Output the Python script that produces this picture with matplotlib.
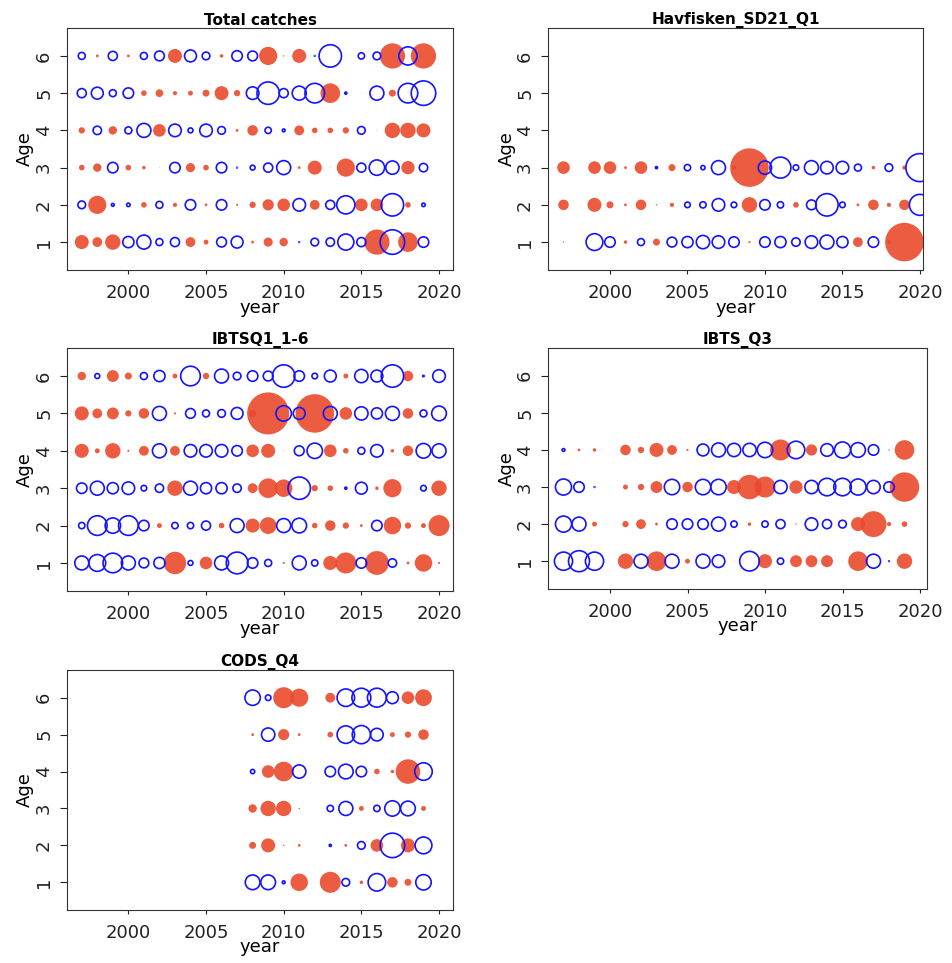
import numpy as np
import matplotlib
matplotlib.use('Agg')
import matplotlib.pyplot as plt

nan = np.nan

# Residuals per fleet, one list per age (1..6)
ages = [1, 2, 3, 4, 5, 6]

# Total catches, 1997-2019
years_total = list(range(1997, 2020))
total_a1 = [1.0, 0.7, 1.1, -0.8, -1.0, -0.5, -0.65, 0.7, 0.35, -0.7, -0.85, 0.2, 0.65, 0.6, -0.05, -0.55, -0.6, -1.15, -0.65, 1.8, -1.75, 1.4, -0.75]
total_a2 = [-0.55, 1.3, -0.2, -0.25, 0.4, -0.5, 0.3, -0.75, 0.2, -0.75, 0.15, 0.45, 0.8, 0.9, -0.9, 0.7, -0.65, -1.3, 0.9, 0.9, -1.6, 0.4, -0.25]
total_a3 = [0.4, 0.6, -0.75, 0.4, 0.25, 0.05, -0.75, 0.65, 0.4, -0.75, -0.05, -0.35, -0.65, -1.0, 0.2, 1.0, 0.05, 1.3, -0.65, -1.1, -0.95, 0.95, -0.6]
total_a4 = [0.45, -0.6, 0.6, -0.5, -1.0, 0.9, -0.9, -0.35, -0.9, -0.55, 0.2, 0.75, -0.45, -0.2, 0.7, 0.4, 0.4, 0.45, -0.55, 0.05, 1.1, 1.1, 1.0]
total_a5 = [-0.65, -0.85, -0.5, -0.75, 0.4, 0.55, 0.3, 0.35, 0.5, 1.0, 0.45, -0.9, -1.6, -0.65, -1.0, -1.4, 1.4, -0.15, 0.05, -1.0, 0.5, -1.4, -1.75]
total_a6 = [-0.5, 0.2, -0.65, 0.2, -0.5, -0.7, 1.0, -0.85, -0.55, 0.25, -0.75, -0.7, 1.3, 0.1, 1.0, -0.05, -1.6, 0.05, -0.45, -0.55, 1.8, -1.3, 1.8]

# Havfisken_SD21_Q1, 1997-2020, ages 1-3
years_havf = list(range(1997, 2021))
havf_a1 = [0.1, nan, -1.2, -0.75, 0.25, -0.5, 0.5, -0.7, -0.8, -0.95, -0.9, -0.75, 0.15, -0.75, -0.8, -0.6, -0.9, -1.0, -0.8, 0.7, -0.75, 0.3, 2.75, nan]
havf_a2 = [0.75, nan, 1.0, 0.5, 0.2, 0.75, 0.1, 0.3, -0.4, -0.45, -0.9, -0.4, 1.1, -0.75, -0.45, 0.4, -0.7, -1.6, -0.4, 0.2, 0.75, 0.3, 0.75, -1.5]
havf_a3 = [0.9, nan, 0.9, 0.9, 0.2, 0.9, -0.15, 0.5, -0.45, -0.3, -1.0, 0.3, 2.75, -0.95, -1.5, -0.4, -1.0, -0.9, -0.9, -0.5, 0.25, -0.55, 0.3, -2.0]

# IBTSQ1_1-6, 1997-2020
years_q1 = list(range(1997, 2021))
q1_a1 = [-1.0, -1.2, -1.4, -1.0, -0.7, -0.8, 1.6, -0.35, 0.9, -1.0, -1.55, -0.75, -0.5, 0.15, -1.0, -0.45, 1.0, 1.5, -0.75, 1.7, -0.6, 0.2, 1.25, 0.15]
q1_a2 = [-0.45, -1.4, -1.1, -1.4, -0.75, 0.35, -0.45, -0.45, -0.65, 0.4, -1.0, 1.0, 1.2, -1.0, -1.05, 0.4, 0.75, 0.45, 0.2, -0.75, 1.25, 0.45, 0.35, 1.5]
q1_a3 = [-0.75, -1.0, -0.8, -0.9, -0.4, -0.6, 1.1, -1.0, -0.8, -0.8, -0.6, 0.7, 1.4, 1.25, -1.6, 0.45, 0.4, -0.15, -0.85, 0.25, 1.3, 0.05, -0.4, 1.1]
q1_a4 = [1.0, 0.35, 1.1, 0.15, 0.7, -1.0, 0.7, -0.9, -0.9, -0.9, -0.75, 0.9, 1.0, 0.05, -0.7, -1.1, 0.9, 0.4, -0.5, -0.9, 0.25, 0.75, -1.05, -1.0]
q1_a5 = [1.0, 0.7, 0.85, 0.45, 0.75, -1.0, 0.15, -0.7, -0.5, -0.55, -0.85, 0.5, 3.0, -1.1, -0.85, 2.75, -1.0, 0.9, -0.95, -0.8, -1.0, 0.75, -0.5, -1.05]
q1_a6 = [0.6, -0.35, 0.85, 0.5, -0.5, -0.8, 0.35, -1.4, 0.45, -1.0, -0.55, -0.75, -0.7, -1.6, -0.75, -0.4, -0.85, 0.35, -0.95, -0.85, -1.6, 0.75, -0.1, -0.9]

# IBTS_Q3, 1997-2019 (no survey in 2000), ages 1-4
years_q3 = list(range(1997, 2020))
q3_a1 = [-1.3, -1.5, -1.3, nan, 1.1, -1.0, 1.4, -1.0, 0.35, -1.0, -0.9, 0.05, -1.4, 1.0, -0.45, 0.85, 0.85, 0.85, 0.05, 1.4, -1.0, -0.05, 1.1]
q3_a2 = [-1.15, -1.0, 0.35, nan, 0.45, 0.7, 0.2, -0.75, -0.75, -0.75, -1.0, -0.45, 0.25, -0.45, -0.65, 0.1, -0.9, -0.65, -0.55, 1.0, 1.85, 0.3, 0.4]
q3_a3 = [-1.15, -0.75, -0.05, nan, 0.35, 0.45, 0.85, -1.1, 0.75, -1.1, -1.1, 1.0, 1.75, 1.5, -0.95, 0.95, -0.95, -1.25, -1.25, -1.15, -0.95, -0.75, 2.1]
q3_a4 = [-0.2, 0.2, 0.25, nan, 0.75, 0.45, 1.0, 0.7, 0.15, -0.85, -1.0, -0.95, -0.95, -1.1, 1.5, -1.25, 0.8, -0.9, -1.15, -1.05, -0.75, 0.1, 1.4]

# CODS_Q4, 2008-2019 (no survey in 2012)
years_cods = list(range(2008, 2020))
cods_a1 = [-1.05, -1.05, -0.2, 1.25, nan, 1.5, -0.55, 0.25, -1.25, 0.75, 0.5, -1.1]
cods_a2 = [0.5, 1.0, 0.1, 0.2, nan, -0.15, 0.2, -0.55, 0.9, -1.75, 1.0, -1.2]
cods_a3 = [0.6, 1.1, 1.1, 0.1, nan, -0.45, -1.0, 0.35, -0.45, -1.1, -1.05, 0.35]
cods_a4 = [-0.3, 0.9, 1.4, -0.95, nan, -0.75, -1.05, -0.75, 0.4, 0.25, 1.75, -1.25]
cods_a5 = [0.2, -0.95, 0.8, 0.2, nan, 0.4, -1.25, -1.3, -0.9, 0.35, 0.45, 0.75]
cods_a6 = [-1.1, -0.4, 1.5, 1.3, nan, 0.7, -1.25, -1.35, -1.35, -0.85, 0.9, 1.2]

fleets = [
    ('Total catches', years_total, [total_a1, total_a2, total_a3, total_a4, total_a5, total_a6]),
    ('Havfisken_SD21_Q1', years_havf, [havf_a1, havf_a2, havf_a3]),
    ('IBTSQ1_1-6', years_q1, [q1_a1, q1_a2, q1_a3, q1_a4, q1_a5, q1_a6]),
    ('IBTS_Q3', years_q3, [q3_a1, q3_a2, q3_a3, q3_a4]),
    ('CODS_Q4', years_cods, [cods_a1, cods_a2, cods_a3, cods_a4, cods_a5, cods_a6]),
]

# axes boxes in pixels: left, top, right, bottom ; plus x limits
W, H = 952, 963
boxes = [
    (67, 28, 453, 270, (1996.05, 2020.9)),
    (548, 28, 923, 270, (1996.0, 2020.2)),
    (67, 348, 453, 591, (1996.05, 2020.9)),
    (548, 348, 927, 589, (1996.0, 2020.45)),
    (67, 670, 453, 910, (1996.05, 2020.9)),
]

RED = '#ea4a2c'
BLUE = '#1414ff'
PX_PER_UNIT = 14.0   # bubble diameter in pixels per unit of residual

fig = plt.figure(figsize=(W / 100, H / 100), dpi=100)

for (name, years, rows), (l, t, r, b, xl) in zip(fleets, boxes):
    ax = fig.add_axes([l / W, 1 - b / H, (r - l) / W, (b - t) / H])
    yrs = np.array(years, dtype=float)
    for age, res in zip(ages, rows):
        res = np.array(res, dtype=float)
        ok = ~np.isnan(res)
        size = (np.abs(res) * PX_PER_UNIT * 0.72) ** 2
        pos = ok & (res >= 0)
        neg = ok & (res < 0)
        ax.scatter(yrs[pos], np.full(pos.sum(), age), s=size[pos], color=RED,
                   alpha=0.9, edgecolors='none', zorder=2)
        ax.scatter(yrs[neg], np.full(neg.sum(), age), s=size[neg], facecolors='none',
                   edgecolors=BLUE, linewidths=1.2, zorder=3)

    ax.set_xlim(*xl)
    ax.set_ylim(0.25, 6.75)
    ax.set_xticks([2000, 2005, 2010, 2015, 2020])
    ax.set_yticks(ages)
    ax.tick_params(axis='x', labelsize=13, length=3, pad=7, colors='#222222')
    ax.tick_params(axis='y', labelsize=13, length=5, pad=5, labelrotation=90, colors='#222222')
    for lab in ax.get_yticklabels():
        lab.set_va('center')
    for sp in ax.spines.values():
        sp.set_color('#333333')

    ax.set_title(name, fontsize=11, fontweight='bold', pad=1)
    ax.set_xlabel('year', fontsize=13)
    ax.xaxis.set_label_coords(0.5, -0.118)
    ax.set_ylabel('Age', fontsize=13)
    ax.yaxis.set_label_coords(-0.085, 0.5)

plt.savefig('out.png', dpi=100)
